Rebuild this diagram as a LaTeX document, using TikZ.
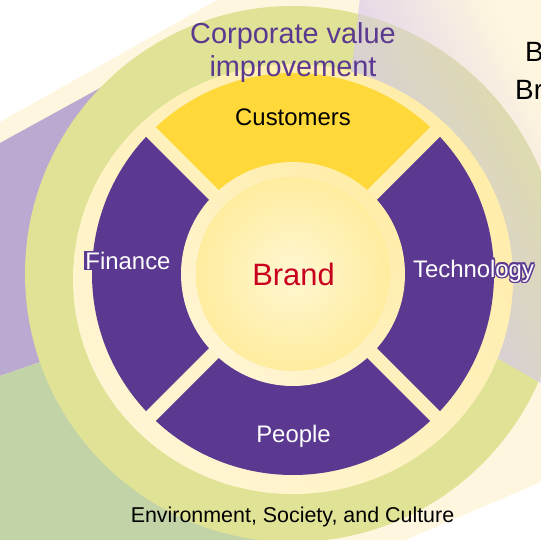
\documentclass[tikz,border=0pt]{standalone}
\usepackage{fontspec}
\setmainfont{Liberation Sans}
\usetikzlibrary{calc}

\definecolor{bgcream}{HTML}{FEF6DE}
\definecolor{bgpurple}{HTML}{BAA9D0}
\definecolor{bgsage}{HTML}{C3D3A8}
\definecolor{bglav}{HTML}{E3D5EA}
\definecolor{ringgreen}{HTML}{E0E396}
\definecolor{ringlav}{HTML}{D9D1D2}
\definecolor{ringkhaki}{HTML}{DEDCAC}
\definecolor{ringcream}{HTML}{FFF9E8}
\definecolor{ringyellow}{HTML}{FFE994}
\definecolor{segpurple}{HTML}{5B3990}
\definecolor{segyellow}{HTML}{FFD83A}
\definecolor{brandin}{HTML}{FFF7D2}
\definecolor{brandout}{HTML}{FFE26C}
\definecolor{brandred}{HTML}{C8001E}

\pgfdeclareradialshading{brandglow}{\pgfpoint{0bp}{0bp}}{color(0bp)=(brandin); color(50bp)=(brandout); color(60bp)=(brandout)}
\pgfdeclarehorizontalshading{ringglow}{100bp}{color(0bp)=(ringcream); color(100bp)=(ringyellow)}

\tikzset{
  seglabel/.style={text=white, font=\fontsize{24}{28}\selectfont, anchor=base, inner sep=1pt},
  brandlabel/.style={text=brandred, font=\fontsize{31}{36}\selectfont, anchor=base, inner sep=0pt},
  corplabel/.style={text=segpurple, font=\fontsize{29}{34}\selectfont, anchor=base, inner sep=0pt},
  envlabel/.style={text=black, font=\fontsize{21.5}{26}\selectfont, anchor=base, inner sep=0pt},
  sidelabel/.style={text=black, font=\fontsize{28}{32}\selectfont, anchor=base west, inner sep=0pt},
  lightdisk/.style={shading=ringglow, shading angle=45}
}

\begin{document}
\begin{tikzpicture}[x=1bp,y=-1bp]
		%%%%% START %%%%%
		\useasboundingbox (0,0) rectangle (541,540);
		\clip (0,0) rectangle (541,540);
		\coordinate (c) at (293,274);
		\coordinate (hub) at (328,262);
		
		% background fan
		\fill[bgcream] (0,122) -- (217,0) -- (541,0) -- (541,482) -- (405,540) -- (0,540) -- cycle;
		\fill[bgpurple] (0,143) -- (180,44) -- (hub) -- (0,376) -- cycle;
		\fill[bgsage] (hub) -- (-20,383) -- (-20,560) -- (310,560) -- cycle;
		
		\begin{scope}
			\clip (hub) -- (362.4,-20) -- (620,-20) -- (620,428) -- cycle;
			\fill[bglav] (0,0) rectangle (541,540);
			\begin{scope}[rotate=26.57]
				\foreach \i in {0,...,27} {
					\pgfmathsetmacro\p{100*(\i+0.5)/28}
					\fill[bgcream!\p!bglav] ({300+5*\i},-50) rectangle ({305.5+5*\i},800);
				}
				\fill[bgcream] (440,-50) rectangle (900,800);
			\end{scope}
		\end{scope}
		
		% outer ring
		\fill[ringgreen] (c) circle (268);
		\begin{scope}
			\clip (hub) -- (362.4,-20) -- (620,-20) -- (620,428) -- cycle;
			\clip (c) circle (268);
			\begin{scope}[rotate=26.57]
				\fill[ringlav] (0,-50) rectangle (291,800);
				\foreach \i in {0,...,25} {
					\pgfmathsetmacro\p{100*(\i+0.5)/26}
					\fill[ringkhaki!\p!ringlav] ({290+5*\i},-50) rectangle ({295.5+5*\i},800);
				}
				\fill[ringkhaki] (420,-50) rectangle (900,800);
			\end{scope}
		\end{scope}
		
		% segments
		\shade[lightdisk] (293,279) ellipse [x radius=220, y radius=215];
		\begin{scope}
			\clip (c) circle (201);
			\fill[segyellow] ($(c)+(0,-9.9)$) -- ++(-300,-300) -- ++(600,0) -- cycle;
			\fill[segpurple] ($(c)+(-9.9,0)$) -- ++(-300,-300) -- ++(0,600) -- cycle;
			\fill[segpurple] ($(c)+(9.9,0)$) -- ++(300,-300) -- ++(0,600) -- cycle;
			\fill[segpurple] ($(c)+(0,9.9)$) -- ++(-300,300) -- ++(600,0) -- cycle;
		\end{scope}
		\shade[lightdisk] (c) circle (112);
		\shade[shading=brandglow] (c) circle (97);
		
		% labels
		\node[brandlabel] (brand) at (293.5,285) {Brand};
		\node[seglabel, text=black] (customers) at (293,126) {Customers};
		\node[seglabel, fill=segpurple] (finance) at (128,269) {Finance};
		\foreach \a in {0,45,...,315}
			\node[seglabel, text=segpurple] (halo\a) at ($(473.5,277)+(\a:1.6)$) {Technology};
		\node[seglabel] (technology) at (473.5,277) {Technology};
		\node[seglabel] (people) at (293.5,442) {People};
		\node[corplabel] (corptop) at (293,44) {Corporate value};
		\node[corplabel] (corpbottom) at (293,77) {improvement};
		\node[envlabel] (env) at (292.5,522) {Environment, Society, and Culture};
		\node[sidelabel] (sidetop) at (525,62) {B};
		\node[sidelabel] (sidebottom) at (515,100) {Br};
		%%%%% END %%%%%
\end{tikzpicture}
\end{document}
